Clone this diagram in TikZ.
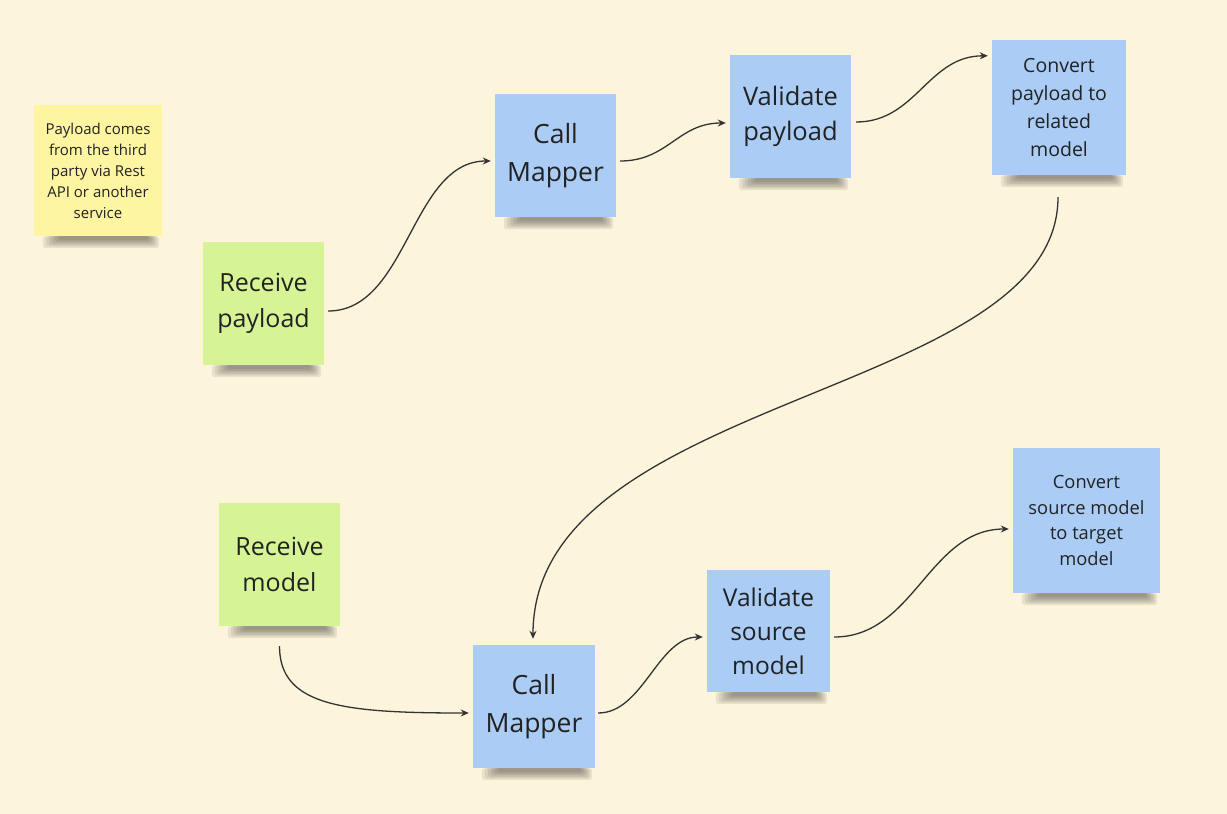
\documentclass[tikz,border=0pt]{standalone}
\usepackage{fontspec}
\setmainfont{Open Sans}
\usetikzlibrary{arrows.meta,calc}
\definecolor{bg}{HTML}{FCF5DC}
\definecolor{noteyellow}{HTML}{FEF5A2}
\definecolor{notegreen}{HTML}{D6F396}
\definecolor{noteblue}{HTML}{AACCF5}
\definecolor{ink}{HTML}{222222}
\definecolor{wire}{HTML}{333333}
\tikzset{
  note/.style={draw=none, inner sep=2pt, align=center, text=ink, anchor=center},
  yellownote/.style={note, fill=noteyellow, font=\fontsize{15}{21}\selectfont},
  greennote/.style={note, fill=notegreen, font=\fontsize{25}{35.5}\selectfont},
  bluebig/.style={note, fill=noteblue, font=\fontsize{26.5}{38}\selectfont},
  bluemid/.style={note, fill=noteblue, font=\fontsize{24.5}{34}\selectfont},
  bluesmall/.style={note, fill=noteblue, font=\fontsize{19.5}{28}\selectfont},
  bluetiny/.style={note, fill=noteblue, font=\fontsize{18.3}{25.7}\selectfont},
  flow/.style={draw=wire, line width=1.3pt, -{Stealth[length=8pt,width=7pt]}},
  shadowlayer/.style={fill=black, fill opacity=0.075, draw=none, rounded corners=3pt},
}
\newcommand{\noteshadow}[1]{%
  \foreach \i in {0,...,5}{
    \path[shadowlayer]
      ($(#1.south west)+(9+3*\i,0)$) rectangle ($(#1.south east)+(-3-2*\i,12-1.6*\i)$);
  }%
}
\begin{document}
\begin{tikzpicture}[x=1pt,y=-1pt]
\fill[bg] (0,0) rectangle (1227,814);
\useasboundingbox (0,0) rectangle (1227,814);

% notes
\node[yellownote, minimum width=128pt, minimum height=131pt] (info) at (98,170.5)
  {Payload comes\\from the third\\party via Rest\\API or another\\service};
\node[greennote, minimum width=121pt, minimum height=123pt] (rp) at (263.5,303.5)
  {Receive\\payload};
\node[bluebig, minimum width=121pt, minimum height=123pt] (cm1) at (555.5,155.5)
  {Call\\Mapper};
\node[bluebig, font=\fontsize{25.5}{35.5}\selectfont, minimum width=121pt, minimum height=123pt] (vp) at (790.5,116.5)
  {Validate\\payload};
\node[bluesmall, minimum width=134pt, minimum height=135pt] (cv1) at (1059,107.5)
  {Convert\\payload to\\related\\model};
\node[greennote, minimum width=121pt, minimum height=123pt] (rm) at (279.5,564.5)
  {Receive\\model};
\node[bluebig, minimum width=122pt, minimum height=123pt] (cm2) at (534,706.5)
  {Call\\Mapper};
\node[bluemid, minimum width=123pt, minimum height=122pt] (vs) at (768.5,631)
  {Validate\\source\\model};
\node[bluetiny, minimum width=147pt, minimum height=145pt] (cv2) at (1086.5,520.5)
  {Convert\\source model\\to target\\model};

% soft shadows under the notes
\noteshadow{info}
\noteshadow{rp}
\noteshadow{cm1}
\noteshadow{vp}
\noteshadow{cv1}
\noteshadow{rm}
\noteshadow{cm2}
\noteshadow{vs}
\noteshadow{cv2}

% connector end points
\coordinate (a1) at ($(rp.east)+(4,7.5)$);
\coordinate (a2) at ($(cm1.west)+(-4,5.5)$);
\coordinate (b1) at ($(cm1.east)+(4,5.5)$);
\coordinate (b2) at ($(vp.west)+(-4,6.5)$);
\coordinate (c1) at ($(vp.east)+(5,5.5)$);
\coordinate (c2) at ($(cv1.north west)+(-4,16)$);
\coordinate (d1) at ($(cv1.south)+(-1,22)$);
\coordinate (d2) at ($(cm2.north)+(-1,-6)$);
\coordinate (e1) at ($(rm.south)+(0,20)$);
\coordinate (e2) at ($(cm2.west)+(-4,6.5)$);
\coordinate (f1) at ($(cm2.east)+(3,6.5)$);
\coordinate (f2) at ($(vs.west)+(-4,6)$);
\coordinate (g1) at ($(vs.east)+(4,6)$);
\coordinate (g2) at ($(cv2.west)+(-4,8.5)$);

\draw[flow] (a1) .. controls +(80,0) and +(-80,0) .. (a2);
\draw[flow] (b1) .. controls +(48,0) and +(-48,0) .. (b2);
\draw[flow] (c1) .. controls +(60,0) and +(-60,0) .. (c2);
\draw[flow] (d1) .. controls +(0,200) and +(0,-245) .. (d2);
\draw[flow] (e1) .. controls +(0,60) and +(-125,0) .. (e2);
\draw[flow] (f1) .. controls +(45,0) and +(-45,0) .. (f2);
\draw[flow] (g1) .. controls +(80,0) and +(-80,0) .. (g2);
\end{tikzpicture}
\end{document}
